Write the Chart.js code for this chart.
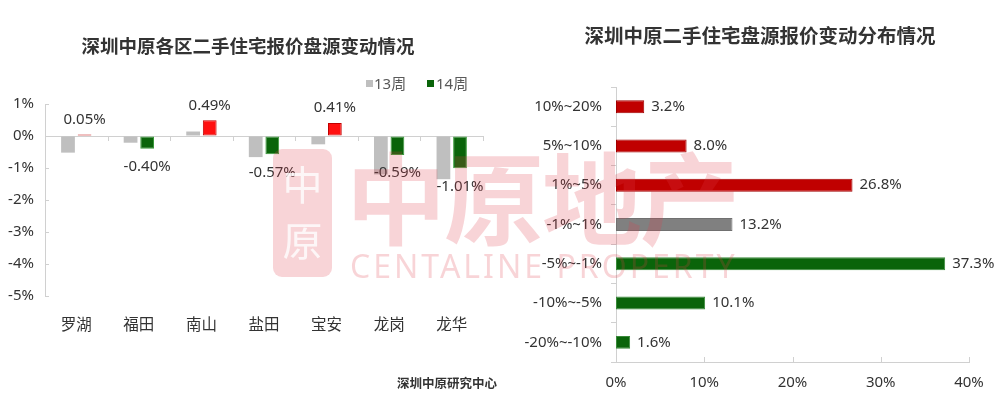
<!DOCTYPE html>
<html><head><meta charset="utf-8">
<script src="https://cdn.jsdelivr.net/npm/chart.js@4.4.1/dist/chart.umd.min.js"></script>
<style>
html,body{margin:0;padding:0;background:#fff;width:1000px;height:410px;overflow:hidden;}
canvas{position:absolute;top:0;}
#c1{left:0;}
#c2{left:500px;}
.t{position:absolute;white-space:nowrap;color:#333;font-family:"Noto Sans","Noto Sans CJK SC",sans-serif;}
.title{font-family:"Noto Sans CJK SC",sans-serif;font-weight:bold;text-align:center;line-height:24px;height:24px;}
.wm{position:absolute;pointer-events:none;color:rgba(222,60,75,0.22);white-space:nowrap;z-index:5;}
</style></head><body>
<canvas id="c1" width="500" height="410"></canvas>
<canvas id="c2" width="500" height="410"></canvas>

<div class="t title" style="left:0;width:496px;top:33px;font-size:18.5px;">深圳中原各区二手住宅报价盘源变动情况</div>
<div class="t title" style="left:510px;width:500px;top:23px;font-size:19.5px;">深圳中原二手住宅盘源报价变动分布情况</div>

<div class="t" style="left:366px;top:80px;width:7px;height:7px;background:#bfbfbf;"></div>
<div class="t" style="left:374px;top:73px;font-size:15px;line-height:20px;color:#595959;">13周</div>
<div class="t" style="left:427px;top:80px;width:7px;height:7px;background:#0a640a;"></div>
<div class="t" style="left:436px;top:73px;font-size:15px;line-height:20px;color:#595959;">14周</div>

<div class="t" style="left:397px;top:374px;font-size:12.5px;line-height:18px;font-family:'Noto Sans CJK SC';font-weight:bold;color:#333;">深圳中原研究中心</div>

<div class="wm" style="left:273px;top:149px;width:59px;height:128px;border-radius:9px;background:rgba(222,60,75,0.22);"></div>
<div class="wm" style="left:273px;top:158px;width:59px;text-align:center;font-family:'Noto Sans CJK SC';font-size:40px;line-height:50px;color:rgba(255,255,255,0.8);">中</div>
<div class="wm" style="left:273px;top:214px;width:59px;text-align:center;font-family:'Noto Sans CJK SC';font-size:40px;line-height:50px;color:rgba(255,255,255,0.8);">原</div>
<div class="wm" style="left:346px;top:144px;font-family:'Noto Sans CJK SC';font-weight:bold;font-size:100px;line-height:100px;letter-spacing:-2px;">中原地产</div>
<div class="wm" style="left:350px;top:250px;font-family:'Noto Sans';font-size:32px;line-height:32px;letter-spacing:3px;">CENTALINE PROPERTY</div>

<script>
// ---- data ----
const districts = ['罗湖','福田','南山','盐田','宝安','龙岗','龙华'];
const seriesNames = ['13周','14周'];
const week13 = [-0.52,-0.21,0.14,-0.66,-0.26,-1.20,-1.35];
const week14 = [0.05,-0.40,0.49,-0.57,0.41,-0.59,-1.01];
const leftMin = -5, leftMax = 1, leftStep = 1;

const ranges = ['10%~20%','5%~10%','1%~5%','-1%~1%','-5%~-1%','-10%~-5%','-20%~-10%'];
const shares = [3.2,8.0,26.8,13.2,37.3,10.1,1.6];
const rightMin = 0, rightMax = 40, rightStep = 10;

// ---- styles ----
const numFont = {family:'"Noto Sans","Noto Sans CJK SC",sans-serif', size:15};
const axisColor = '#d0d0d0';
const textColor = '#333';

const leftLabels = {
  id:'leftLabels',
  afterDatasetsDraw(chart){
    const ctx = chart.ctx;
    const meta = chart.getDatasetMeta(1);
    ctx.save();
    ctx.font = '15px "Noto Sans","Noto Sans CJK SC",sans-serif';
    ctx.fillStyle = textColor;
    ctx.textAlign = 'center';
    ctx.textBaseline = 'middle';
    meta.data.forEach((el,i)=>{
      const v = week14[i];
      const y = v >= 0 ? el.y - 15 : el.y + 18;
      ctx.fillText(v.toFixed(2)+'%', el.x, y);
    });
    ctx.restore();
  },
  afterDraw(chart){
    const ctx = chart.ctx, x = chart.scales.x, y = chart.scales.y;
    const y0 = y.getPixelForValue(0);
    const n = districts.length, w = (x.right - x.left)/n;
    ctx.save();
    ctx.strokeStyle = axisColor; ctx.lineWidth = 1;
    ctx.beginPath();
    for(let i=0;i<=n;i++){
      const px = Math.round(x.left + i*w)+0.5;
      ctx.moveTo(px, y0); ctx.lineTo(px, y0+5);
    }
    for(let v=leftMin; v<=leftMax; v+=leftStep){
      const py = Math.round(y.getPixelForValue(v))+0.5;
      ctx.moveTo(y.right, py); ctx.lineTo(y.right+4, py);
    }
    ctx.stroke();
    ctx.restore();
  }
};

new Chart(document.getElementById('c1'), {
  type:'bar',
  data:{
    labels: districts,
    datasets:[
      {label:seriesNames[0], data:week13, backgroundColor:'#bfbfbf', borderWidth:0,
       categoryPercentage:0.53, barPercentage:0.83},
      {label:seriesNames[1], data:week14,
       backgroundColor: week14.map(v=> v>=0 ? '#ff1010' : '#0a640a'),
       borderColor: week14.map(v=> v>=0 ? '#c00000' : '#3a9a3a'),
       borderWidth:1, borderSkipped:false,
       categoryPercentage:0.53, barPercentage:0.83}
    ]
  },
  options:{
    responsive:false, animation:false, devicePixelRatio:1,
    layout:{padding:{top:104,right:17,left:0,bottom:0}},
    plugins:{legend:{display:false}, tooltip:{enabled:false}, title:{display:false}},
    scales:{
      x:{
        position:'bottom',
        grid:{display:false}, border:{display:false},
        ticks:{font:{family:'"Noto Sans CJK SC",sans-serif', size:15.5}, color:textColor, padding:11, maxRotation:0},
        afterFit(s){ s.height = 114; }
      },
      y:{
        min:leftMin, max:leftMax,
        ticks:{stepSize:leftStep, callback:v=>v+'%', font:numFont, color:textColor, padding:11},
        grid:{drawTicks:false, color:c=> (c.tick && c.tick.value===0) ? axisColor : 'rgba(0,0,0,0)'},
        border:{display:true, color:axisColor},
        afterFit(s){ s.width = 45; }
      }
    }
  },
  plugins:[leftLabels]
});

const rightLabels = {
  id:'rightLabels',
  afterDatasetsDraw(chart){
    const ctx = chart.ctx;
    const meta = chart.getDatasetMeta(0);
    ctx.save();
    ctx.font = '15px "Noto Sans","Noto Sans CJK SC",sans-serif';
    ctx.fillStyle = textColor;
    ctx.textAlign = 'left';
    ctx.textBaseline = 'middle';
    meta.data.forEach((el,i)=>{
      ctx.fillText(shares[i].toFixed(1)+'%', el.x + 7, el.y);
    });
    ctx.restore();
  },
  afterDraw(chart){
    const ctx = chart.ctx, x = chart.scales.x;
    ctx.save();
    ctx.strokeStyle = axisColor; ctx.lineWidth = 1;
    ctx.beginPath();
    for(let v=rightMin; v<=rightMax; v+=rightStep){
      const px = Math.round(x.getPixelForValue(v))+0.5;
      ctx.moveTo(px, x.top); ctx.lineTo(px, x.top-5);
    }
    ctx.stroke();
    ctx.restore();
  }
};

const barFill = ['#c00000','#c00000','#c00000','#808080','#0a640a','#0a640a','#0a640a'];
const barEdge = ['#a00000','#a00000','#a00000','#707070','#3a8a3a','#3a8a3a','#3a8a3a'];

new Chart(document.getElementById('c2'), {
  type:'bar',
  data:{
    labels: ranges,
    datasets:[{data:shares, backgroundColor:barFill, borderColor:barEdge, borderWidth:1, borderSkipped:false,
      categoryPercentage:1, barPercentage:0.33}]
  },
  options:{
    indexAxis:'y',
    responsive:false, animation:false, devicePixelRatio:1,
    layout:{padding:{top:87,right:31,left:0,bottom:0}},
    plugins:{legend:{display:false}, tooltip:{enabled:false}, title:{display:false}},
    scales:{
      x:{
        min:rightMin, max:rightMax,
        ticks:{stepSize:rightStep, callback:v=>v+'%', font:numFont, color:textColor, padding:12},
        grid:{display:false, drawTicks:false},
        border:{display:true, color:axisColor},
        afterFit(s){ s.height = 48; }
      },
      y:{
        grid:{display:true, offset:true, drawOnChartArea:false, drawTicks:true, tickLength:5, color:axisColor},
        border:{display:true, color:axisColor},
        ticks:{font:numFont, color:textColor, padding:9},
        afterFit(s){ s.width = 116; }
      }
    }
  },
  plugins:[rightLabels]
});
</script>
</body></html>
